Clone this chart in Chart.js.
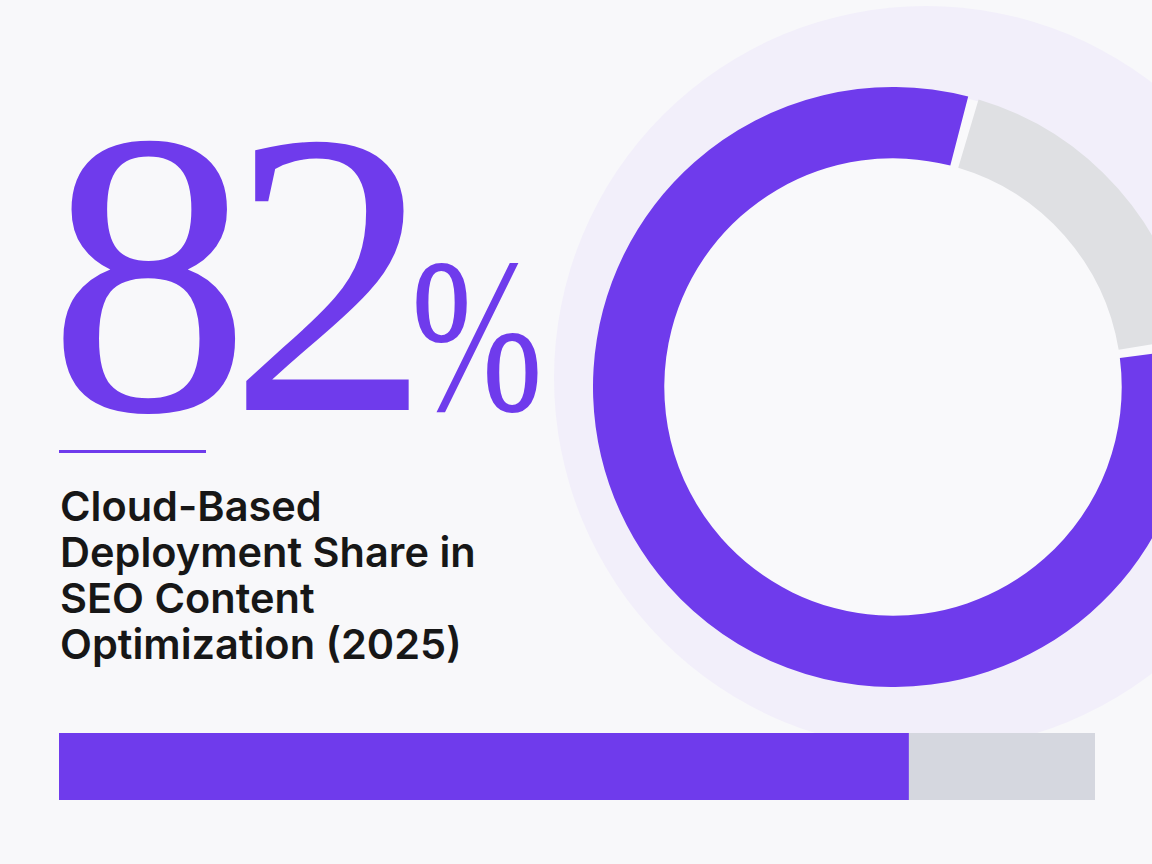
<!DOCTYPE html>
<html>
<head>
<meta charset="utf-8">
<script src="https://cdn.jsdelivr.net/npm/chart.js@4.4.1/dist/chart.umd.min.js"></script>
<style>
    html, body {
        margin: 0;
        padding: 0;
        width: 1152px;
        height: 864px;
        overflow: hidden;
        background: #f8f8fa;
    }
    .halo {
        position: absolute;
        left: 554px;
        top: 6px;
        width: 744px;
        height: 744px;
        border-radius: 50%;
        background: #f2effa;
    }
    .hole {
        position: absolute;
        left: 595px;
        top: 89px;
        width: 596px;
        height: 596px;
        border-radius: 50%;
        background: #f9f9fb;
    }
    .donut-box {
        position: absolute;
        left: 593px;
        top: 87px;
        width: 600px;
        height: 600px;
    }
    .big-number {
        position: absolute;
        z-index: 2;
        left: 48px;
        top: 71px;
        font-family: "Liberation Serif", serif;
        font-size: 405px;
        line-height: 1;
        letter-spacing: -22px;
        color: #6f3bec;
        white-space: nowrap;
    }
    .big-number .pct {
        display: inline-block;
        font-size: 220px;
        letter-spacing: 0;
        margin-left: 2px;
        transform: scaleX(0.72);
        transform-origin: left bottom;
    }
    .rule {
        position: absolute;
        left: 59px;
        top: 450px;
        width: 147px;
        height: 3px;
        background: #6f3bec;
    }
    .title {
        position: absolute;
        left: 60px;
        top: 483px;
        font-family: Inter, sans-serif;
        font-weight: 600;
        font-size: 41.5px;
        line-height: 46px;
        color: #171717;
    }
    .bar-box {
        position: absolute;
        left: 59px;
        top: 733px;
        width: 1036px;
        height: 67px;
    }
</style>
</head>
<body>
<div class="halo"></div>
<div class="hole"></div>
<div class="donut-box"><canvas id="donut"></canvas></div>

<div class="big-number">82<span class="pct">%</span></div>
<div class="rule"></div>
<div class="title">Cloud-Based<br>Deployment Share in<br>SEO Content<br>Optimization (2025)</div>

<div class="bar-box"><canvas id="bar"></canvas></div>

<script>
const labels = ['Cloud-Based', 'Other'];
const shares = [82, 18];
const sliceColors = ['#6f3bec', '#dfe0e3'];
const barColors = ['#6f3bec', '#d5d7df'];

new Chart(document.getElementById('donut'), {
    type: 'doughnut',
    data: {
        labels: labels,
        datasets: [{
            data: shares,
            backgroundColor: sliceColors,
            borderWidth: 0,
            spacing: 6,
        }],
    },
    options: {
        responsive: true,
        maintainAspectRatio: false,
        radius: 297,
        cutout: '76%',
        rotation: 81,
        animation: false,
        layout: { padding: 0 },
        plugins: { legend: { display: false }, tooltip: { enabled: false } },
    },
});

new Chart(document.getElementById('bar'), {
    type: 'bar',
    data: {
        labels: ['2025'],
        datasets: shares.map((v, i) => ({
            label: labels[i],
            data: [v],
            backgroundColor: barColors[i],
            borderWidth: 0,
            barPercentage: 1,
            categoryPercentage: 1,
        })),
    },
    options: {
        indexAxis: 'y',
        responsive: true,
        maintainAspectRatio: false,
        animation: false,
        layout: { padding: 0 },
        plugins: { legend: { display: false }, tooltip: { enabled: false } },
        scales: {
            x: { stacked: true, min: 0, max: 100, display: false },
            y: { stacked: true, display: false },
        },
    },
});
</script>
</body>
</html>
